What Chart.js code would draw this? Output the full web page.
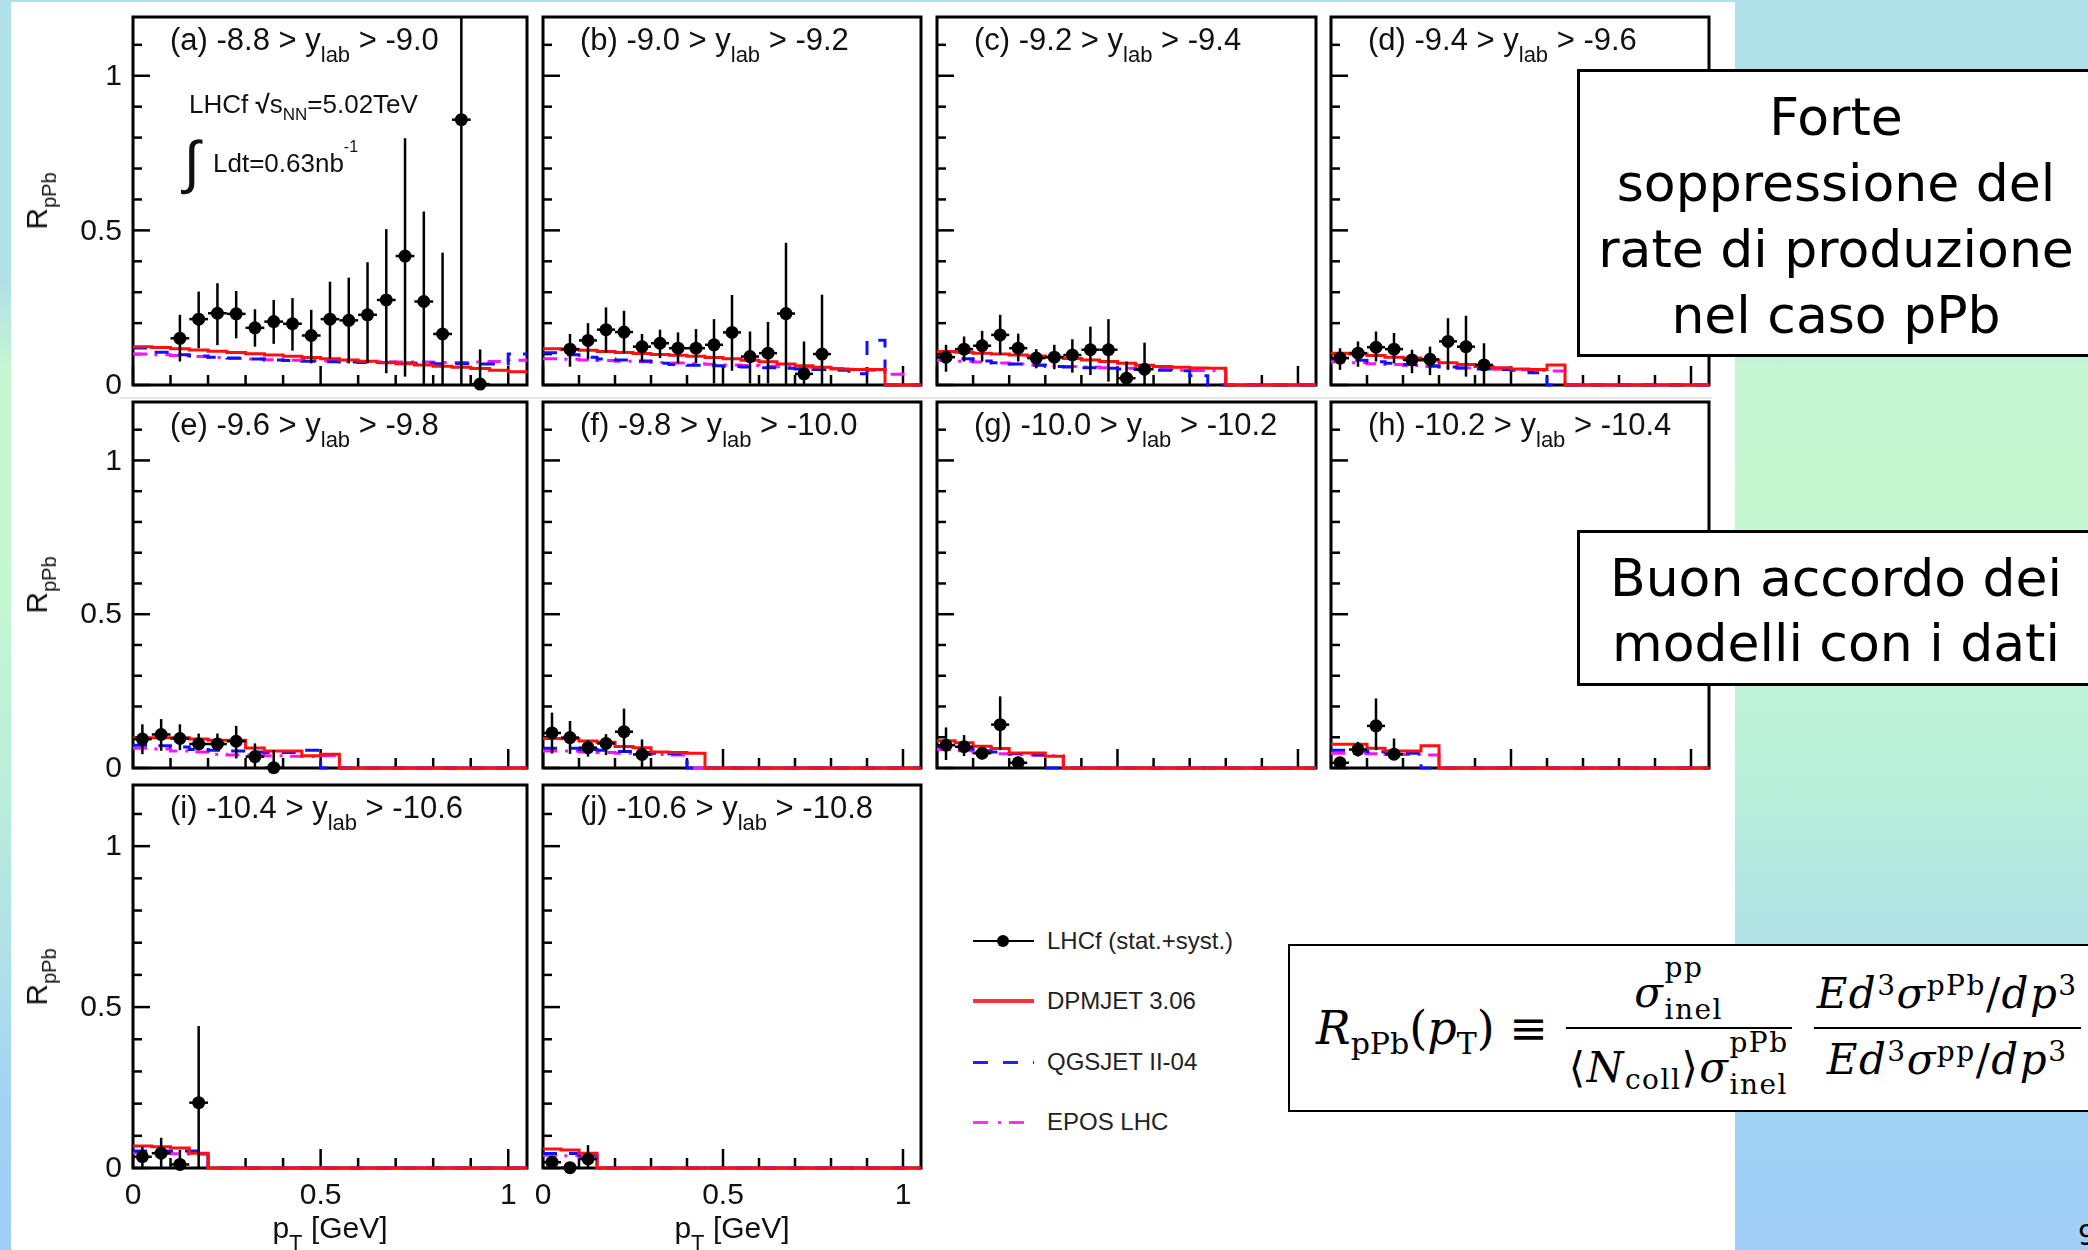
<!DOCTYPE html>
<html>
<head>
<meta charset="utf-8">
<script src="https://cdn.jsdelivr.net/npm/chart.js@4.4.0/dist/chart.umd.min.js"></script>
<style>
  html, body { margin: 0; padding: 0; }
  body {
    width: 2088px; height: 1250px; overflow: hidden; position: relative;
    background: linear-gradient(180deg, #b0e0e8 0px, #b0e0e8 280px, #c6f6d2 370px, #c6f8d0 560px,
                #b8eedb 800px, #b0e0e8 960px, #a2d2f4 1110px, #a0cef8 1250px);
    font-family: "Liberation Sans", Arial, sans-serif; color: #111;
  }
  #sheet { position: absolute; left: 11px; top: 2px; width: 1724px; height: 1248px; background: #fff; }
  #seam { position: absolute; left: 120px; top: 397px; width: 1592px; height: 2px; background: #e6e6e6; }
  canvas { position: absolute; }
  .t { position: absolute; white-space: nowrap; line-height: 1; }
  .sb { font-size: 22px; position: relative; top: 12px; }
  .rot { transform: translate(-50%, -50%) rotate(-90deg); font-size: 30px; }
  .rot .sb { font-size: 20px; top: 9px; }
  .box {
    position: absolute; left: 1577px; width: 512px; background: #fff; border: 3px solid #000;
    font-family: "DejaVu Sans", sans-serif; font-size: 52px; text-align: center; color: #000; z-index: 5;
  }
  #box1 { top: 69px; height: 270px; line-height: 66px; padding-top: 12px; }
  #box2 { top: 530px; height: 137px; line-height: 65px; padding-top: 13px; }
  .leg { position: absolute; left: 1047px; font-size: 24px; line-height: 24px; color: #222; }
  .smp { position: absolute; left: 973px; width: 61px; }
  #fbox { position: absolute; left: 1288px; top: 944px; width: 820px; height: 164px; border: 2px solid #000; background: #fff; }
  #formula {
    position: absolute; left: 1316px; top: 946px; height: 164px; display: flex; align-items: center;
    font-family: "DejaVu Serif", serif; color: #000; white-space: nowrap;
  }
  #formula i { font-style: italic; }
  .lhs { font-size: 46px; }
  .s1 { font-size: 30px; position: relative; top: 10px; }
  .frac { display: inline-flex; flex-direction: column; align-items: center; font-size: 42px; line-height: 1; letter-spacing: 1.5px; }
  .f1 { margin-left: 18px; }
  .f2 { margin-left: 22px; }
  .nu, .de { height: 76px; display: flex; padding-left: 3px; padding-right: 3px; box-sizing: border-box; }
  .nu { align-items: flex-end; }
  .de { align-items: flex-start; }
  .f1 .nu { padding-bottom: 3px; }
  .f1 .de { padding-top: 0; }
  .f2 .nu { padding-bottom: 12px; }
  .f2 .de { padding-top: 10px; }
  .bar { align-self: stretch; height: 2px; background: #000; }
  .ss { display: inline-flex; flex-direction: column; vertical-align: 30px; font-size: 28px; line-height: 28px; }
  .ss span + span { margin-top: 14px; }
  .frac sup { font-size: 28px; vertical-align: 13px; line-height: 0; }
  .s2 { font-size: 28px; position: relative; top: 7px; }
</style>
</head>
<body>
<div id="sheet"></div>
<div id="seam"></div>

<script>
// p_T binning (GeV), 0.05 wide bins
const binEdges = [0, 0.05, 0.1, 0.15, 0.2, 0.25, 0.3, 0.35, 0.4, 0.45, 0.5, 0.55, 0.6, 0.65, 0.7, 0.75, 0.8, 0.85, 0.9, 0.95, 1.0, 1.05];
const binCenters = [0.025, 0.075, 0.125, 0.175, 0.225, 0.275, 0.325, 0.375, 0.425, 0.475, 0.525, 0.575, 0.625, 0.675, 0.725, 0.775, 0.825, 0.875, 0.925, 0.975, 1.025];

const panelLabels = [
  '(a) -8.8 > y_lab > -9.0', '(b) -9.0 > y_lab > -9.2', '(c) -9.2 > y_lab > -9.4', '(d) -9.4 > y_lab > -9.6',
  '(e) -9.6 > y_lab > -9.8', '(f) -9.8 > y_lab > -10.0', '(g) -10.0 > y_lab > -10.2', '(h) -10.2 > y_lab > -10.4',
  '(i) -10.4 > y_lab > -10.6', '(j) -10.6 > y_lab > -10.8'
];

// LHCf data points (R_pPb) with stat.+syst. error band edges
const lhcfA = [null, null, 0.151, 0.213, 0.232, 0.230, 0.185, 0.205, 0.198, 0.160, 0.213, 0.209, 0.227, 0.275, 0.417, 0.270, 0.165, 0.858, 0.003];
const hiA   = [null, null, 0.227, 0.302, 0.329, 0.304, 0.245, 0.275, 0.281, 0.243, 0.334, 0.347, 0.397, 0.504, 0.798, 0.561, 0.428, 1.500, 0.115];
const loA   = [null, null, 0.076, 0.119, 0.129, 0.151, 0.124, 0.133, 0.111, 0.070, 0.086, 0.070, 0.070, 0.038, 0.027, 0, 0, 0, 0];

const lhcfB = [null, 0.116, 0.144, 0.179, 0.171, 0.124, 0.135, 0.119, 0.119, 0.130, 0.170, 0.092, 0.103, 0.231, 0.036, 0.100];
const hiB   = [null, 0.165, 0.200, 0.251, 0.240, 0.165, 0.179, 0.170, 0.181, 0.213, 0.291, 0.173, 0.204, 0.460, 0.141, 0.292];
const loB   = [null, 0.059, 0.083, 0.105, 0.103, 0.078, 0.087, 0.070, 0.070, 0.005, 0.046, 0.005, 0.005, 0, 0, 0];

const lhcfC = [0.090, 0.116, 0.127, 0.162, 0.119, 0.087, 0.090, 0.097, 0.114, 0.114, 0.022, 0.051];
const hiC   = [0.130, 0.157, 0.175, 0.227, 0.166, 0.116, 0.130, 0.148, 0.189, 0.213, 0.076, 0.137];
const loC   = [0.043, 0.076, 0.076, 0.097, 0.076, 0.054, 0.051, 0.040, 0.032, 0.011, 0, 0];

const lhcfD = [0.087, 0.103, 0.122, 0.116, 0.081, 0.083, 0.141, 0.124, 0.065];
const hiD   = [0.119, 0.141, 0.173, 0.168, 0.114, 0.124, 0.216, 0.224, 0.135];
const loD   = [0.049, 0.059, 0.076, 0.070, 0.038, 0.032, 0.049, 0.027, 0];

const lhcfE = [0.094, 0.109, 0.096, 0.078, 0.078, 0.087, 0.037, 0.001];
const hiE   = [0.142, 0.159, 0.142, 0.112, 0.112, 0.137, 0.080, 0.058];
const loE   = [0.045, 0.056, 0.058, 0.058, 0.058, 0.031, 0.001, 0];

const lhcfF = [0.114, 0.099, 0.066, 0.080, 0.118, 0.044];
const hiF   = [0.180, 0.153, 0.091, 0.110, 0.193, 0.093];
const loF   = [0.047, 0.046, 0.037, 0.042, 0.053, 0];

const lhcfG = [0.074, 0.069, 0.048, 0.141, 0.017];
const hiG   = [0.132, 0.107, 0.069, 0.233, 0.037];
const loG   = [0.026, 0.039, 0.028, 0.058, 0];

const lhcfH = [0.017, 0.060, 0.137, 0.045];
const hiH   = [0.031, 0.085, 0.226, 0.096];
const loH   = [0, 0.037, 0.058, 0.026];

const lhcfI = [0.035, 0.046, 0.011, 0.203];
const hiI   = [0.066, 0.094, 0.056, 0.441];
const loI   = [0, 0, 0, 0];

const lhcfJ = [0.018, 0.001, 0.028];
const hiJ   = [0.030, 0.010, 0.071];
const loJ   = [0, 0, 0];

// model predictions, one value per p_T bin
const dpmA  = [0.124, 0.121, 0.117, 0.113, 0.109, 0.105, 0.101, 0.097, 0.093, 0.089, 0.085, 0.081, 0.077, 0.073, 0.069, 0.065, 0.061, 0.057, 0.053, 0.048, 0.043];
const qgsA  = [0.120, 0.106, 0.098, 0.094, 0.090, 0.087, 0.084, 0.081, 0.079, 0.077, 0.075, 0.074, 0.073, 0.072, 0.071, 0.070, 0.069, 0.069, 0.068, 0.068, 0.100];
const eposA = [0.100, 0.098, 0.095, 0.092, 0.089, 0.086, 0.084, 0.082, 0.080, 0.079, 0.078, 0.077, 0.076, 0.075, 0.074, 0.074, 0.073, 0.073, 0.074, 0.076, 0.080];

const dpmB  = [0.117, 0.115, 0.112, 0.108, 0.105, 0.102, 0.099, 0.096, 0.093, 0.089, 0.085, 0.080, 0.075, 0.068, 0.062, 0.057, 0.052, 0.050, 0.050, 0, 0];
const qgsB  = [0.104, 0.098, 0.090, 0.084, 0.081, 0.078, 0.070, 0.066, 0.064, 0.062, 0.060, 0.058, 0.056, 0.054, 0.052, 0.050, 0.048, 0.036, 0.145, 0, 0];
const eposB = [0.085, 0.083, 0.081, 0.079, 0.077, 0.075, 0.073, 0.071, 0.069, 0.067, 0.065, 0.063, 0.061, 0.059, 0.057, 0.055, 0.053, 0.051, 0.048, 0.035, 0];

const dpmC  = [0.108, 0.106, 0.103, 0.100, 0.097, 0.094, 0.090, 0.086, 0.081, 0.076, 0.070, 0.064, 0.060, 0.057, 0.055, 0.054, 0, 0, 0, 0, 0];
const qgsC  = [0.090, 0.085, 0.078, 0.072, 0.068, 0.064, 0.060, 0.058, 0.056, 0.054, 0.052, 0.050, 0.048, 0.046, 0.030, 0, 0, 0, 0, 0, 0];
const eposC = [0.080, 0.077, 0.074, 0.071, 0.068, 0.065, 0.062, 0.060, 0.058, 0.056, 0.054, 0.052, 0.050, 0.048, 0.047, 0.046, 0, 0, 0, 0, 0];

const dpmD  = [0.103, 0.100, 0.095, 0.090, 0.087, 0.080, 0.072, 0.066, 0.060, 0.056, 0.052, 0.050, 0.065, 0, 0, 0, 0, 0, 0, 0, 0];
const qgsD  = [0.085, 0.080, 0.075, 0.070, 0.066, 0.062, 0.058, 0.055, 0.052, 0.050, 0.048, 0.040, 0, 0, 0, 0, 0, 0, 0, 0, 0];
const eposD = [0.075, 0.072, 0.069, 0.066, 0.063, 0.060, 0.057, 0.055, 0.053, 0.051, 0.049, 0.047, 0.045, 0, 0, 0, 0, 0, 0, 0, 0];

const dpmE  = [0.098, 0.098, 0.098, 0.094, 0.090, 0.090, 0.065, 0.055, 0.055, 0.040, 0.045, 0, 0, 0, 0, 0, 0, 0, 0, 0, 0];
const qgsE  = [0.074, 0.072, 0.068, 0.060, 0.058, 0.055, 0.052, 0.050, 0.050, 0.058, 0, 0, 0, 0, 0, 0, 0, 0, 0, 0, 0];
const eposE = [0.064, 0.062, 0.055, 0.052, 0.045, 0.042, 0.042, 0.040, 0.038, 0.037, 0.040, 0, 0, 0, 0, 0, 0, 0, 0, 0, 0];

const dpmF  = [0.096, 0.095, 0.088, 0.084, 0.070, 0.066, 0.052, 0.050, 0.048, 0, 0, 0, 0, 0, 0, 0, 0, 0, 0, 0, 0];
const qgsF  = [0.064, 0.064, 0.060, 0.058, 0.054, 0.050, 0.048, 0.046, 0, 0, 0, 0, 0, 0, 0, 0, 0, 0, 0, 0, 0];
const eposF = [0.055, 0.055, 0.052, 0.050, 0.048, 0.046, 0.044, 0.042, 0, 0, 0, 0, 0, 0, 0, 0, 0, 0, 0, 0, 0];

const dpmG  = [0.089, 0.082, 0.071, 0.063, 0.049, 0.049, 0.038, 0, 0, 0, 0, 0, 0, 0, 0, 0, 0, 0, 0, 0, 0];
const qgsG  = [0.070, 0.062, 0.056, 0.052, 0.046, 0.042, 0, 0, 0, 0, 0, 0, 0, 0, 0, 0, 0, 0, 0, 0, 0];
const eposG = [0.060, 0.056, 0.050, 0.046, 0.044, 0.042, 0.040, 0, 0, 0, 0, 0, 0, 0, 0, 0, 0, 0, 0, 0, 0];

const dpmH  = [0.077, 0.077, 0.064, 0.055, 0.055, 0.072, 0, 0, 0, 0, 0, 0, 0, 0, 0, 0, 0, 0, 0, 0, 0];
const qgsH  = [0.058, 0.058, 0.053, 0.050, 0.048, 0, 0, 0, 0, 0, 0, 0, 0, 0, 0, 0, 0, 0, 0, 0, 0];
const eposH = [0.048, 0.048, 0.046, 0.044, 0.044, 0.042, 0, 0, 0, 0, 0, 0, 0, 0, 0, 0, 0, 0, 0, 0, 0];

const dpmI  = [0.068, 0.066, 0.062, 0.046, 0, 0, 0, 0, 0, 0, 0, 0, 0, 0, 0, 0, 0, 0, 0, 0, 0];
const qgsI  = [0.053, 0.053, 0.053, 0.053, 0, 0, 0, 0, 0, 0, 0, 0, 0, 0, 0, 0, 0, 0, 0, 0, 0];
const eposI = [0.048, 0.046, 0.044, 0.043, 0, 0, 0, 0, 0, 0, 0, 0, 0, 0, 0, 0, 0, 0, 0, 0, 0];

const dpmJ  = [0.059, 0.056, 0.046, 0, 0, 0, 0, 0, 0, 0, 0, 0, 0, 0, 0, 0, 0, 0, 0, 0, 0];
const qgsJ  = [0.045, 0.045, 0.040, 0, 0, 0, 0, 0, 0, 0, 0, 0, 0, 0, 0, 0, 0, 0, 0, 0, 0];
const eposJ = [0.040, 0.038, 0.034, 0, 0, 0, 0, 0, 0, 0, 0, 0, 0, 0, 0, 0, 0, 0, 0, 0, 0];

// axis ticks
const yMajorTicks = [0, 0.5, 1];
const yMinorTicks = [0.1, 0.2, 0.3, 0.4, 0.6, 0.7, 0.8, 0.9, 1.1];
const yTickLabels = ['0', '0.5', '1'];
const xMajorTicks = [0, 0.5, 1];
const xMinorTicks = [0.1, 0.2, 0.3, 0.4, 0.6, 0.7, 0.8, 0.9];
const xTickLabels = ['0', '0.5', '1'];

const legendLabels = ['LHCf (stat.+syst.)', 'DPMJET 3.06', 'QGSJET II-04', 'EPOS LHC'];

// frame positions of the pads on the page
const COLS = [[133, 527], [543, 921], [937, 1316], [1331, 1709]];
const ROWS = [[17, 385], [402, 768], [785, 1168]];

const panels = [
  { row: 0, col: 0, lhcf: lhcfA, hi: hiA, lo: loA, dpm: dpmA, qgs: qgsA, epos: eposA },
  { row: 0, col: 1, lhcf: lhcfB, hi: hiB, lo: loB, dpm: dpmB, qgs: qgsB, epos: eposB },
  { row: 0, col: 2, lhcf: lhcfC, hi: hiC, lo: loC, dpm: dpmC, qgs: qgsC, epos: eposC },
  { row: 0, col: 3, lhcf: lhcfD, hi: hiD, lo: loD, dpm: dpmD, qgs: qgsD, epos: eposD },
  { row: 1, col: 0, lhcf: lhcfE, hi: hiE, lo: loE, dpm: dpmE, qgs: qgsE, epos: eposE },
  { row: 1, col: 1, lhcf: lhcfF, hi: hiF, lo: loF, dpm: dpmF, qgs: qgsF, epos: eposF },
  { row: 1, col: 2, lhcf: lhcfG, hi: hiG, lo: loG, dpm: dpmG, qgs: qgsG, epos: eposG },
  { row: 1, col: 3, lhcf: lhcfH, hi: hiH, lo: loH, dpm: dpmH, qgs: qgsH, epos: eposH },
  { row: 2, col: 0, lhcf: lhcfI, hi: hiI, lo: loI, dpm: dpmI, qgs: qgsI, epos: eposI },
  { row: 2, col: 1, lhcf: lhcfJ, hi: hiJ, lo: loJ, dpm: dpmJ, qgs: qgsJ, epos: eposJ }
];

function placeText(html, left, baseline, size, extra) {
  const d = document.createElement('div');
  d.className = 't';
  d.style.fontSize = size + 'px';
  d.style.left = left + 'px';
  d.style.top = (baseline - 0.85 * size) + 'px';
  if (extra) Object.assign(d.style, extra);
  d.innerHTML = html;
  document.body.appendChild(d);
  return d;
}

function histPoints(vals) {
  return binEdges.map((x, i) => ({ x: x, y: vals[Math.min(i, vals.length - 1)] }));
}

function seg(ctx, x1, y1, x2, y2) {
  ctx.beginPath(); ctx.moveTo(x1, y1); ctx.lineTo(x2, y2); ctx.stroke();
}

// ROOT-like frame: inward ticks, labels, error bars
function framePlugin(p) {
  return {
    id: 'rootFrame',
    beforeDatasetsDraw(chart) {
      const { ctx, chartArea: a, scales: { x, y } } = chart;
      ctx.save();
      ctx.strokeStyle = '#000';
      ctx.lineWidth = 2.5;
      yMajorTicks.forEach(v => { const py = y.getPixelForValue(v); seg(ctx, a.left, py, a.left + 17, py); });
      yMinorTicks.forEach(v => { const py = y.getPixelForValue(v); seg(ctx, a.left, py, a.left + 9, py); });
      xMajorTicks.forEach(v => { const px = x.getPixelForValue(v); seg(ctx, px, a.bottom, px, a.bottom - 19); });
      xMinorTicks.forEach(v => { const px = x.getPixelForValue(v); seg(ctx, px, a.bottom, px, a.bottom - 10); });
      ctx.lineWidth = 3;
      ctx.strokeRect(a.left, a.top, a.right - a.left, a.bottom - a.top);

      ctx.fillStyle = '#111';
      ctx.font = '30px "Liberation Sans", Arial, sans-serif';
      if (p.col === 0) {
        ctx.textAlign = 'right'; ctx.textBaseline = 'middle';
        yMajorTicks.forEach((v, i) => ctx.fillText(yTickLabels[i], a.left - 11, y.getPixelForValue(v) + 1));
      }
      if (p.row === 2) {
        ctx.textAlign = 'center'; ctx.textBaseline = 'middle';
        xMajorTicks.forEach((v, i) => ctx.fillText(xTickLabels[i], x.getPixelForValue(v), a.bottom + 28));
      }
      ctx.restore();
    },
    beforeDatasetDraw(chart, args) {
      if (args.index !== 3) return;
      const { ctx, chartArea: a, scales: { x, y } } = chart;
      ctx.save();
      ctx.beginPath();
      ctx.rect(a.left, a.top, a.right - a.left, a.bottom - a.top);
      ctx.clip();
      ctx.strokeStyle = '#000';
      ctx.lineWidth = 2.5;
      p.lhcf.forEach((v, i) => {
        if (v === null) return;
        const px = x.getPixelForValue(binCenters[i]);
        seg(ctx, px, y.getPixelForValue(p.lo[i]), px, y.getPixelForValue(p.hi[i]));
        const py = y.getPixelForValue(v);
        seg(ctx, x.getPixelForValue(binCenters[i] - 0.025), py, x.getPixelForValue(binCenters[i] + 0.025), py);
      });
      ctx.restore();
    }
  };
}

panels.forEach((p, k) => {
  const [L, R] = COLS[p.col];
  const [T, B] = ROWS[p.row];
  const pad = { left: p.col === 0 ? 110 : 18, right: 8, top: 8, bottom: p.row === 2 ? 52 : 20 };
  const cv = document.createElement('canvas');
  cv.width = R - L + pad.left + pad.right;
  cv.height = B - T + pad.top + pad.bottom;
  cv.style.left = (L - pad.left) + 'px';
  cv.style.top = (T - pad.top) + 'px';
  document.body.appendChild(cv);

  new Chart(cv, {
    type: 'line',
    data: {
      datasets: [
        { label: legendLabels[1], data: histPoints(p.dpm), borderColor: '#ff1010', borderWidth: 3, stepped: 'before', pointRadius: 0, fill: false, clip: 4 },
        { label: legendLabels[2], data: histPoints(p.qgs), borderColor: '#1010ff', borderWidth: 3, borderDash: [14, 12], stepped: 'before', pointRadius: 0, fill: false, clip: 4 },
        { label: legendLabels[3], data: histPoints(p.epos), borderColor: '#ff10ff', borderWidth: 3, borderDash: [14, 8, 3, 8], stepped: 'before', pointRadius: 0, fill: false, clip: 4 },
        {
          label: legendLabels[0],
          data: p.lhcf.map((v, i) => ({ x: binCenters[i], y: v })).filter(d => d.y !== null),
          showLine: false, pointRadius: 6.5, pointBackgroundColor: '#000', pointBorderColor: '#000',
          pointBorderWidth: 0, order: -1, clip: 10
        }
      ]
    },
    options: {
      responsive: false,
      animation: false,
      devicePixelRatio: 1,
      layout: { padding: pad },
      plugins: { legend: { display: false }, tooltip: { enabled: false } },
      scales: {
        x: { type: 'linear', min: 0, max: 1.05, display: false },
        y: { type: 'linear', min: 0, max: 1.19, display: false }
      }
    },
    plugins: [framePlugin(p)]
  });

  // pad title
  const title = panelLabels[k].replace(/>/g, '&gt;').replace('y_lab', 'y<span class="sb">lab</span>');
  placeText(title, L + 37, T + 33, 31);
  // axis titles
  if (p.col === 0) {
    placeText('R<span class="sb">pPb</span>', 37, 0, 30, { top: ((T + B) / 2) + 'px' }).className = 't rot';
  }
  if (p.row === 2) {
    placeText('p<span class="sb">T</span> [GeV]', (L + R) / 2, 1238, 30, { transform: 'translateX(-50%)' });
  }
});

// annotation in pad (a)
placeText('LHCf <span style="font-weight:bold">√</span>s<span style="font-size:17px;position:relative;top:7px">NN</span>=5.02TeV', 189, 113, 26);
placeText('∫', 184, 182, 58, { fontFamily: '"DejaVu Sans", sans-serif', fontWeight: '200' });
placeText('Ldt=0.63nb<span style="font-size:16px;position:relative;top:-20px">-1</span>', 213, 172, 26);

// legend
const legendY = [941, 1001, 1062, 1122];
legendLabels.forEach((txt, i) => {
  const d = document.createElement('div');
  d.className = 'leg';
  d.style.top = (legendY[i] - 12) + 'px';
  d.textContent = txt;
  document.body.appendChild(d);
});
const samples = [
  { h: 2.5, bg: '#000' },
  { h: 4, bg: '#ff3030' },
  { h: 3, bg: 'repeating-linear-gradient(90deg, #2020ff 0 15px, transparent 15px 30px)' },
  { h: 3, bg: 'repeating-linear-gradient(90deg, #ff30ff 0 15px, transparent 15px 25px, #ff30ff 25px 28px, transparent 28px 36px)' }
];
samples.forEach((s, i) => {
  const d = document.createElement('div');
  d.className = 'smp';
  d.style.top = (legendY[i] - s.h / 2) + 'px';
  d.style.height = s.h + 'px';
  d.style.background = s.bg;
  document.body.appendChild(d);
});
const dot = document.createElement('div');
Object.assign(dot.style, { position: 'absolute', left: '997px', top: (legendY[0] - 6) + 'px', width: '12px', height: '12px', borderRadius: '50%', background: '#000' });
document.body.appendChild(dot);
</script>

<div class="box" id="box1">Forte<br>soppressione del<br>rate di produzione<br>nel caso pPb</div>
<div class="box" id="box2">Buon accordo dei<br>modelli con i dati</div>

<div id="fbox"></div>
<div id="formula">
  <span class="lhs"><i>R</i><span class="s1">pPb</span>(<i>p</i><span class="s1">T</span>) ≡</span>
  <span class="frac f1">
    <span class="nu"><span><i>σ</i><span class="ss"><span>pp</span><span>inel</span></span></span></span>
    <span class="bar"></span>
    <span class="de"><span>⟨<i>N</i><span class="s2">coll</span>⟩<i>σ</i><span class="ss"><span>pPb</span><span>inel</span></span></span></span>
  </span>
  <span class="frac f2">
    <span class="nu"><span><i>E</i><i>d</i><sup>3</sup><i>σ</i><sup>pPb</sup>/<i>d</i><i>p</i><sup>3</sup></span></span>
    <span class="bar"></span>
    <span class="de"><span><i>E</i><i>d</i><sup>3</sup><i>σ</i><sup>pp</sup>/<i>d</i><i>p</i><sup>3</sup></span></span>
  </span>
</div>

<div class="t" style="left:2078px; top:1222px; font-size:28px; font-family:'DejaVu Sans',sans-serif; color:#000">9</div>
</body>
</html>
